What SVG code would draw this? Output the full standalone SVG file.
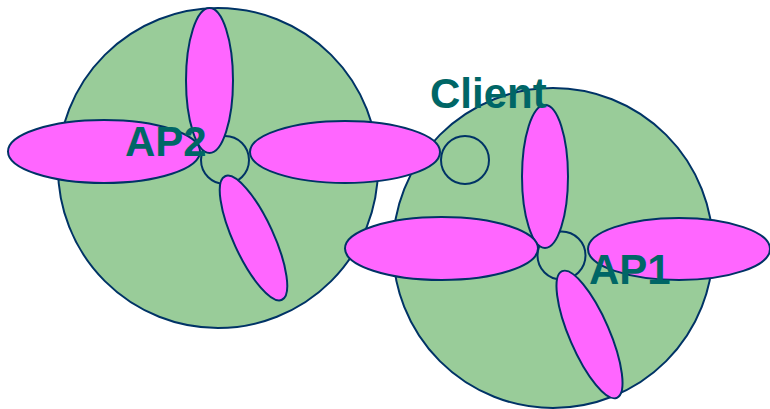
<svg xmlns="http://www.w3.org/2000/svg" width="770" height="409" viewBox="0 0 770 409">
<style>
.cell{fill:#99CC99;stroke:#003366;stroke-width:2}
.lobe{fill:#FF66FF;stroke:#003366;stroke-width:2}
.hub{fill:#99CC99;stroke:#003366;stroke-width:2}
.lbl{font-family:"Liberation Sans",Arial,sans-serif;font-weight:bold;font-size:42px;fill:#006666}
</style>
<rect width="770" height="409" fill="#FFFFFF"/>
<g id="coverage">
<circle class="cell" cx="218" cy="168" r="160"/>
<circle class="cell" cx="553" cy="248" r="160"/>
</g>
<g id="AP2">
<circle class="hub" cx="225" cy="160" r="24"/>
<ellipse class="lobe" cx="209.5" cy="80.5" rx="23.5" ry="72.5"/>
<ellipse class="lobe" cx="104" cy="151.5" rx="96" ry="31.5"/>
<ellipse class="lobe" cx="345" cy="152" rx="95" ry="31"/>
<ellipse class="lobe" cx="253.5" cy="238" rx="68" ry="20" transform="rotate(65.3 253.5 238)"/>
<text class="lbl" x="125" y="156">AP2</text>
</g>
<g id="AP1">
<circle class="hub" cx="561.5" cy="255.5" r="24"/>
<ellipse class="lobe" cx="545" cy="176.5" rx="23" ry="71.5"/>
<ellipse class="lobe" cx="441.5" cy="248.5" rx="96.5" ry="31.5"/>
<ellipse class="lobe" cx="679" cy="249" rx="91" ry="31"/>
<ellipse class="lobe" cx="589.5" cy="334.5" rx="69" ry="20" transform="rotate(66.6 589.5 334.5)"/>
<text class="lbl" x="589" y="284">AP1</text>
</g>
<g id="Client">
<circle class="hub" cx="465" cy="160" r="24" fill="none" style="fill:none"/>
<text class="lbl" x="430" y="108">Client</text>
</g>
</svg>
